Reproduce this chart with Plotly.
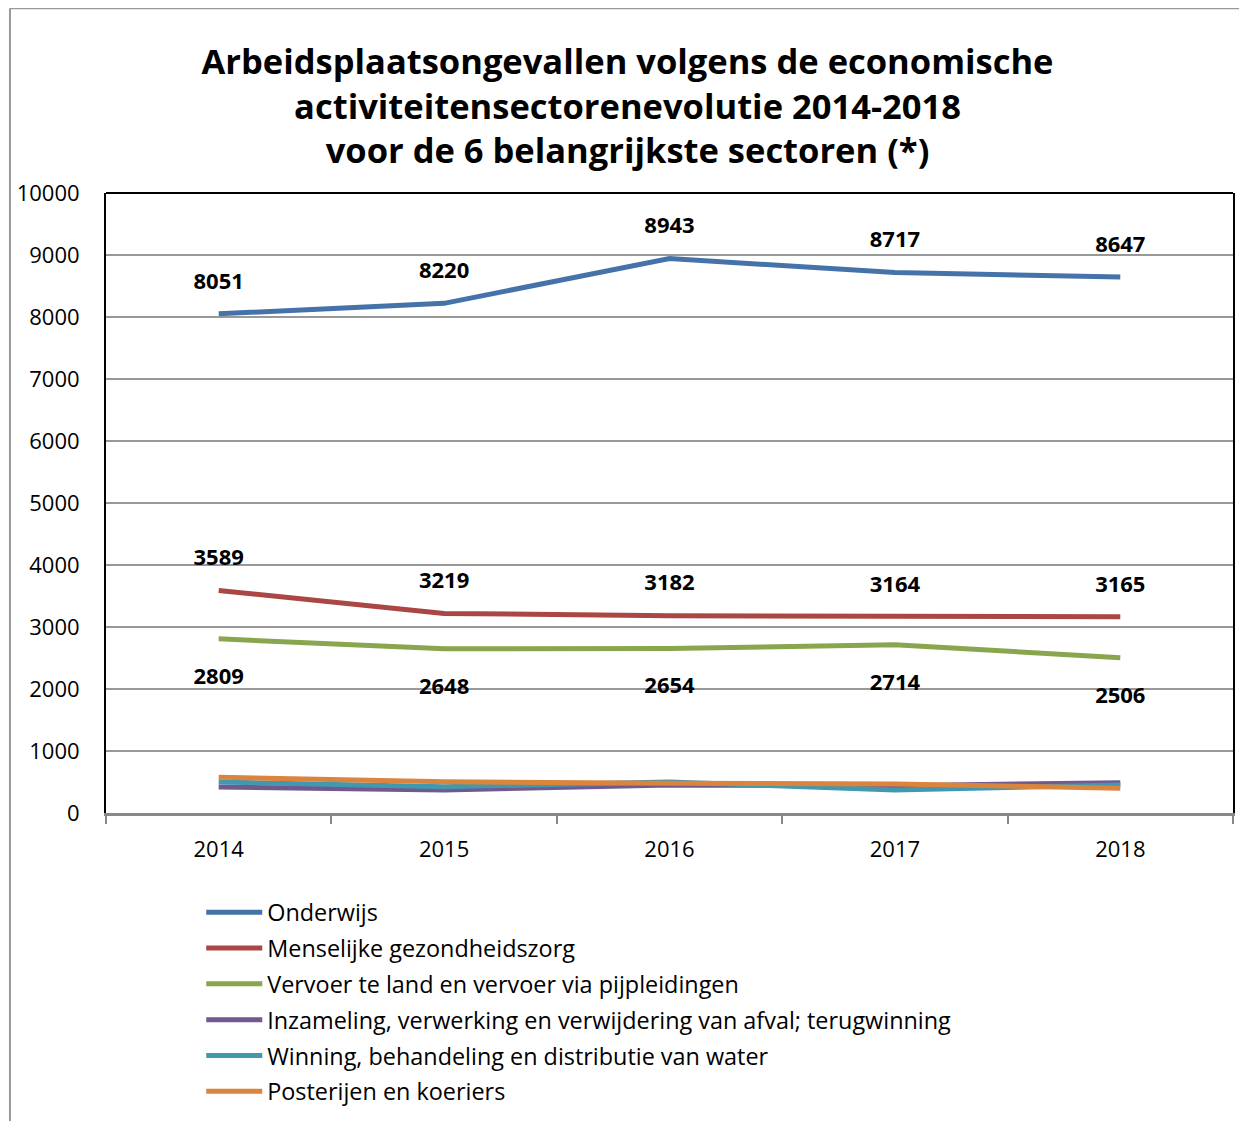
import plotly.graph_objects as go

years = ["2014", "2015", "2016", "2017", "2018"]
series_names = [
    "Onderwijs",
    "Menselijke gezondheidszorg",
    "Vervoer te land en vervoer via pijpleidingen",
    "Inzameling, verwerking en verwijdering van afval; terugwinning",
    "Winning, behandeling en distributie van water",
    "Posterijen en koeriers",
]
onderwijs = [8051, 8220, 8943, 8717, 8647]
gezondheidszorg = [3589, 3219, 3182, 3164, 3165]
vervoer = [2809, 2648, 2654, 2714, 2506]
afval = [419, 371, 450, 440, 489]
water = [500, 424, 500, 371, 452]
posterijen = [576, 505, 480, 468, 398]

values = [onderwijs, gezondheidszorg, vervoer, afval, water, posterijen]
colors = ["#4672AA", "#AA4643", "#89A54E", "#71588F", "#4198AF", "#DB843D"]
labelpos = ["top center", "top center", "bottom center", None, None, None]
markersize = [30, 30, 44, 0, 0, 0]

FONT = "Open Sans"

fig = go.Figure()
for i, (name, vals, col, pos, ms) in enumerate(zip(series_names, values, colors, labelpos, markersize)):
    if pos:
        kw = dict(
            mode="lines+markers+text",
            marker=dict(size=ms, color="rgba(0,0,0,0)", line=dict(width=0)),
            texttemplate="<b>%{y}</b>",
            textposition=pos,
            textfont=dict(family=FONT, size=22, color="black"),
        )
    else:
        kw = dict(mode="lines")
    fig.add_trace(go.Scatter(x=years, y=vals, name=name, legendgroup=f"g{i}",
                             line=dict(color=col, width=5), **kw))

fig.update_layout(
    width=1239, height=1113,
    paper_bgcolor="white", plot_bgcolor="white",
    margin=dict(l=98, r=14, t=185, b=308, autoexpand=False),
    font=dict(family=FONT, size=22, color="black"),
    title=dict(
        text="<b>Arbeidsplaatsongevallen volgens de economische<br>activiteitensectorenevolutie 2014-2018<br>voor de 6 belangrijkste sectoren (*)</b>",
        x=0.5, xref="container", xanchor="center",
        y=0.941, yref="container", yanchor="top",
        font=dict(family=FONT, size=34.5, color="black"),
    ),
    showlegend=True,
    legend=dict(
        x=0.0845, y=-0.125, xanchor="left", yanchor="top",
        font=dict(family=FONT, size=23.4, color="black"),
        bgcolor="rgba(0,0,0,0)",
        traceorder="grouped",
        tracegroupgap=2.4,
        itemwidth=56,
    ),
)
fig.update_xaxes(
    type="category", range=[-0.5, 4.5], automargin=False,
    tickson="boundaries", ticks="outside", ticklen=8, tickcolor="#888888", tickwidth=2,
    showline=True, linecolor="#888888", linewidth=3,
    showgrid=False, mirror=False,
    tickfont=dict(family=FONT, size=22), ticklabelstandoff=15,
)
fig.update_yaxes(
    range=[0, 10000], dtick=1000, tickformat="d", automargin=False,
    showgrid=True, gridcolor="#999999", gridwidth=2,
    showline=True, linecolor="black", linewidth=2, mirror=True,
    zeroline=False, ticks="outside", ticklen=0,
    tickfont=dict(family=FONT, size=22), ticklabelstandoff=20,
)
fig.add_shape(type="line", xref="paper", yref="paper", x0=0, x1=1, y0=1, y1=1,
              line=dict(color="black", width=2))
fig.add_shape(type="line", xref="paper", yref="paper", x0=-0.0852, x1=-0.0852, y0=1.298, y1=-0.5,
              line=dict(color="#999999", width=2))
fig.add_shape(type="line", xref="paper", yref="paper", x0=-0.0852, x1=1.02, y0=1.298, y1=1.298,
              line=dict(color="#999999", width=2))

fig.write_html("out.html")
